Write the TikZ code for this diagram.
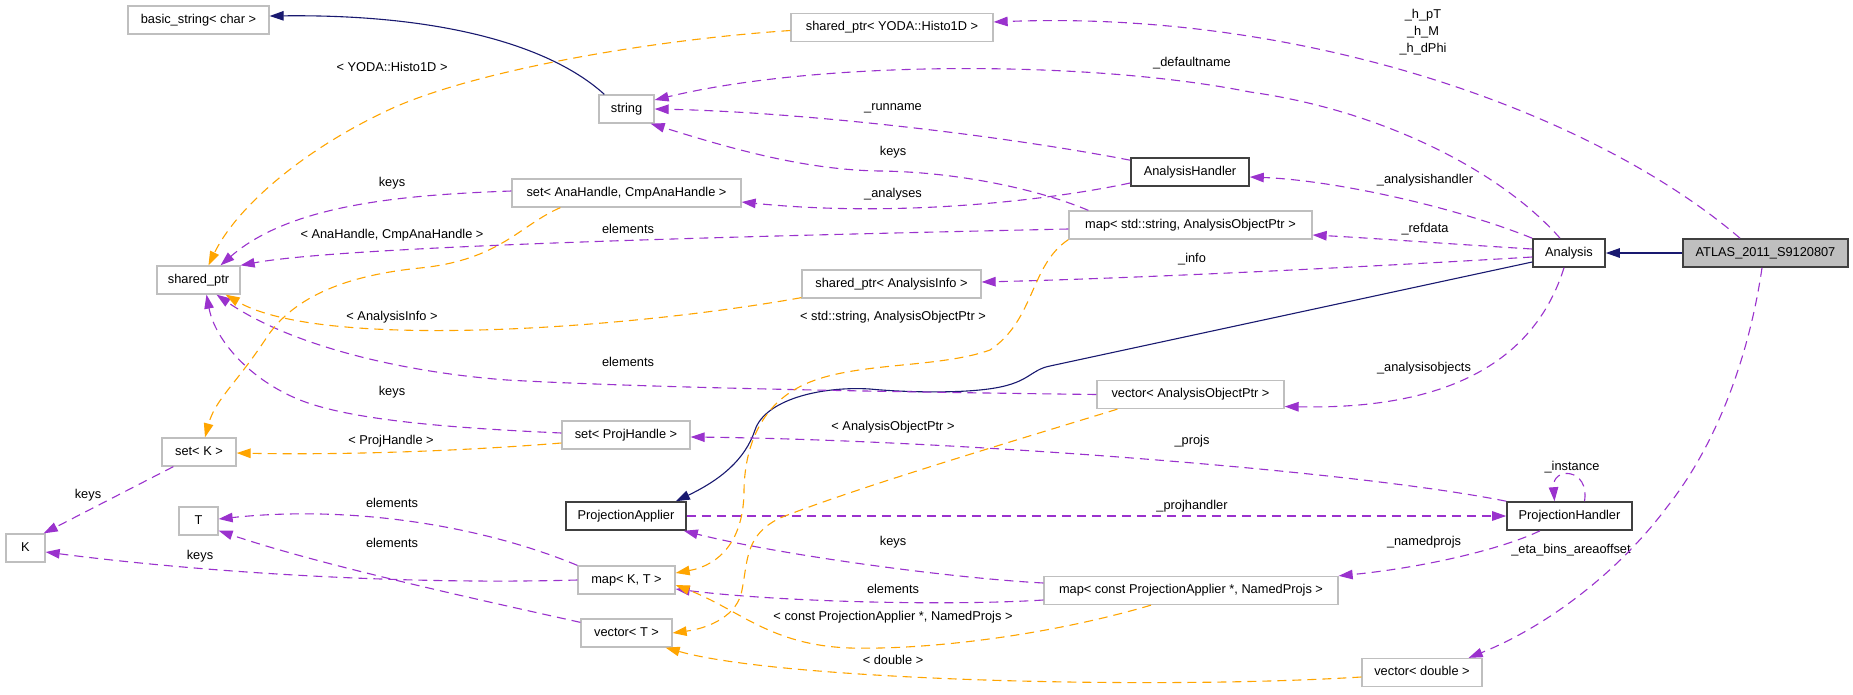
\documentclass[tikz,border=0pt]{standalone}
\usepackage{fontspec}
\setmainfont{Liberation Sans}
\usetikzlibrary{arrows.meta}
\definecolor{memc}{HTML}{9A32CD}
\definecolor{tplc}{HTML}{FFA500}
\definecolor{inhc}{HTML}{191970}
\definecolor{gboxc}{HTML}{BFBFBF}
\definecolor{dboxc}{HTML}{404040}
\begin{document}
\begin{tikzpicture}[x=1pt,y=-1pt,
  txt/.style={font=\fontsize{12.8}{15}\selectfont, inner sep=0pt, text height=9.5pt, text depth=2.7pt},
  box/.style={txt, draw=gboxc, line width=1.3pt, minimum height=28pt},
  cbox/.style={txt, draw=dboxc, line width=1.6pt, minimum height=28pt},
  lbl/.style={txt},
  tip/.style={-{Triangle[length=14pt,width=9.5pt]}},
  memedge/.style={draw=memc, line width=1.1pt, dash pattern=on 9pt off 6pt, tip},
  tpledge/.style={draw=tplc, line width=1.1pt, dash pattern=on 9pt off 6pt, tip},
  inhedge/.style={draw=inhc, line width=1.1pt, tip}
]
\useasboundingbox (0,0) rectangle (1853,694);
\fill[white] (0,0) rectangle (1853,694);

% nodes
\node[box, minimum width=141pt] (bs) at (198.5,20) {basic\_string< char >};
\node[box, minimum width=83pt] (sp) at (198.5,280) {shared\_ptr};
\node[box, minimum width=55pt] (str) at (626.5,109) {string};
\node[box, minimum width=229pt] (sah) at (626.5,193) {set< AnaHandle, CmpAnaHandle >};
\node[box, minimum width=202pt] (yoda) at (892,27.5) {shared\_ptr< YODA::Histo1D >};
\node[box, minimum width=179pt] (sai) at (891.5,284) {shared\_ptr< AnalysisInfo >};
\node[cbox, minimum width=118pt] (ah) at (1190,172) {AnalysisHandler};
\node[box, minimum width=243pt] (msa) at (1190.5,225) {map< std::string, AnalysisObjectPtr >};
\node[cbox, minimum width=72pt] (ana) at (1569,253) {Analysis};
\node[cbox, fill=gboxc, minimum width=165pt] (atlas) at (1765.5,253) {ATLAS\_2011\_S9120807};
\node[box, minimum width=187pt] (vaop) at (1190.5,394.5) {vector< AnalysisObjectPtr >};
\node[box, minimum width=74pt] (setk) at (199,452) {set< K >};
\node[box, minimum width=128pt] (sph) at (626,435) {set< ProjHandle >};
\node[cbox, minimum width=120pt] (pa) at (626,516) {ProjectionApplier};
\node[cbox, minimum width=125pt] (ph) at (1569.5,516) {ProjectionHandler};
\node[box, minimum width=39pt] (T) at (198.5,521) {T};
\node[box, minimum width=39pt] (K) at (25.5,548) {K};
\node[box, minimum width=97pt] (mkt) at (626.5,580) {map< K, T >};
\node[box, minimum width=294pt] (mcpa) at (1191,590.5) {map< const ProjectionApplier *, NamedProjs >};
\node[box, minimum width=91pt] (vt) at (626.5,633) {vector< T >};
\node[box, minimum width=120pt] (vd) at (1422,672.5) {vector< double >};

% edge labels
\node[lbl] (l1) at (392,68) {< YODA::Histo1D >};
\node[lbl] (l2) at (392,183) {keys};
\node[lbl] (l3) at (392,235) {< AnaHandle, CmpAnaHandle >};
\node[lbl] (l4) at (628,230) {elements};
\node[lbl] (l5) at (392,317) {< AnalysisInfo >};
\node[lbl] (l6) at (628,363) {elements};
\node[lbl] (l7) at (392,392) {keys};
\node[lbl] (l8) at (391,441) {< ProjHandle >};
\node[lbl] (l9) at (88,495) {keys};
\node[lbl] (l10) at (392,504) {elements};
\node[lbl] (l11) at (392,544) {elements};
\node[lbl] (l12) at (200,556) {keys};
\node[font=\fontsize{12.8}{17}\selectfont, inner sep=0pt, align=center] (l13) at (1423,32) {\_h\_pT\\\_h\_M\\\_h\_dPhi};
\node[lbl] (l14) at (1192,63) {\_defaultname};
\node[lbl] (l15) at (893,107) {\_runname};
\node[lbl] (l16) at (893,152) {keys};
\node[lbl] (l17) at (893,194) {\_analyses};
\node[lbl] (l18) at (1425,180) {\_analysishandler};
\node[lbl] (l19) at (1425,229) {\_refdata};
\node[lbl] (l20) at (1192,259) {\_info};
\node[lbl] (l21) at (893,317) {< std::string, AnalysisObjectPtr >};
\node[lbl] (l22) at (893,427) {< AnalysisObjectPtr >};
\node[lbl] (l23) at (1192,441) {\_projs};
\node[lbl] (l24) at (1192,506) {\_projhandler};
\node[lbl] (l25) at (893,542) {keys};
\node[lbl] (l26) at (893,590) {elements};
\node[lbl] (l27) at (893,617) {< const ProjectionApplier *, NamedProjs >};
\node[lbl] (l28) at (893,661) {< double >};
\node[lbl] (l29) at (1424,368) {\_analysisobjects};
\node[lbl] (l30) at (1572,467) {\_instance};
\node[lbl] (l31) at (1424,542) {\_namedprojs};
\node[lbl] (l32) at (1571,550) {\_eta\_bins\_areaoffset};

% inheritance
\draw[inhedge] (atlas) -- (ana);
\draw[inhedge] ([yshift=-9pt]ana.west) -- (1050,366) .. controls (1030,370) and (1030,382) .. (995,388)
   .. controls (960,394) and (900,392) .. (870,389) .. controls (820,386) and (765,400) .. (755,430)
   .. controls (745,460) and (720,480) .. ([xshift=-11pt]pa.north east);
\draw[inhedge] ([xshift=6pt]str.north west) .. controls (550,45) and (440,14) .. ([yshift=4pt]bs.east);

% members
\draw[memedge] ([xshift=-25.5pt]atlas.north) .. controls (1590,110) and (1300,10) .. ([yshift=5.5pt]yoda.east);
\draw[memedge] ([xshift=-9pt]ana.north) .. controls (1500,170) and (1380,110) .. (1250,92)
   .. controls (1090,60) and (820,60) .. ([yshift=9pt]str.east);
\draw[memedge] ([yshift=-3pt]ah.north west) .. controls (1000,135) and (800,112) .. (str.east);
\draw[memedge] ([xshift=20pt]msa.north west) .. controls (1040,190) and (960,172) .. (880,171)
   .. controls (800,170) and (720,145) .. ([xshift=-4pt]str.south east);
\draw[memedge] ([yshift=-11pt]ah.west) .. controls (1050,200) and (900,218) .. ([yshift=-9pt]sah.east);
\draw[memedge] (ana.north west) .. controls (1450,205) and (1330,180) .. ([yshift=-5pt]ah.east);
\draw[memedge] ([yshift=4pt]ana.west) .. controls (1450,244) and (1370,238) .. ([yshift=-10pt]msa.east);
\draw[memedge] ([yshift=-4pt]ana.west) .. controls (1400,265) and (1150,278) .. ([yshift=2pt]sai.east);
\draw[memedge] ([xshift=-5pt]ana.south) .. controls (1535,360) and (1450,410) .. ([yshift=-12pt]vaop.east);
\draw[memedge] ([xshift=-3.5pt]atlas.south) .. controls (1750,350) and (1720,440) .. (1667,507)
   .. controls (1620,570) and (1550,625) .. ([xshift=-14pt]vd.north east);
\draw[memedge] ([xshift=15pt]ph.north) .. controls (1590,468) and (1552,466) .. ([xshift=-15pt]ph.north);
\draw[memedge] (ph.north west) .. controls (1350,470) and (950,440) .. ([yshift=-2pt]sph.east);
\draw[memedge] (pa) -- (ph);
\draw[memedge] ([xshift=-29.5pt]ph.south) .. controls (1500,550) and (1420,568) .. (mcpa.north east);
\draw[memedge] ([yshift=7.5pt]mcpa.west) .. controls (950,578) and (780,555) .. ([xshift=-3pt]pa.south east);
\draw[memedge] ([yshift=-9.5pt]mcpa.west) .. controls (950,606) and (780,602) .. ([yshift=-9pt]mkt.east);
\draw[memedge] ([yshift=2pt]sah.west) .. controls (400,195) and (290,205) .. ([xshift=22pt]sp.north);
\draw[memedge] ([yshift=-4pt]msa.west) .. controls (800,235) and (350,245) .. (sp.north east);
\draw[memedge] (vaop.west) .. controls (900,392) and (650,388) .. (507,380)
   .. controls (400,372) and (290,345) .. ([xshift=18pt]sp.south);
\draw[memedge] ([yshift=2pt]sph.west) .. controls (450,428) and (350,420) .. (300,400)
   .. controls (250,380) and (215,340) .. ([xshift=8pt]sp.south);
\draw[memedge] ([xshift=12pt]setk.south west) -- ([xshift=-2pt]K.north east);
\draw[memedge] (mkt.west) .. controls (400,585) and (200,572) .. ([yshift=-4pt]K.east);
\draw[memedge] (mkt.north west) .. controls (480,525) and (350,505) .. ([yshift=2pt]T.east);
\draw[memedge] ([yshift=-4pt]vt.north west) .. controls (480,600) and (320,565) .. ([yshift=5pt]T.south east);

% template instances
\draw[tpledge] ([xshift=-40pt]mcpa.south) .. controls (1050,635) and (930,650) .. (850,648)
   .. controls (770,645) and (740,610) .. ([yshift=-5pt]mkt.east);
\draw[tpledge] (msa.south west) .. controls (1030,265) and (1035,320) .. (990,350)
   .. controls (940,368) and (860,362) .. (810,382) .. controls (765,400) and (745,440) .. (744,490)
   .. controls (744,540) and (720,565) .. ([yshift=7pt]mkt.east);
\draw[tpledge] ([xshift=21pt]vaop.south west) .. controls (1000,445) and (850,490) .. (780,518)
   .. controls (745,535) and (748,560) .. (742,590) .. controls (738,615) and (710,628) .. (vt.east);
\draw[tpledge] ([yshift=-4.5pt]vd.west) .. controls (1150,690) and (780,680) .. ([xshift=-7pt]vt.south east);
\draw[tpledge] ([yshift=-3pt]yoda.west) .. controls (650,40) and (480,70) .. (395,107)
   .. controls (300,150) and (235,210) .. ([xshift=10pt]sp.north);
\draw[tpledge] ([xshift=49pt]sah.south west) .. controls (520,225) and (500,260) .. (420,268)
   .. controls (340,276) and (290,300) .. (265,340) .. controls (235,385) and (215,400) .. ([xshift=6pt]setk.north);
\draw[tpledge] ([yshift=1pt]sai.south west) .. controls (620,330) and (320,350) .. ([xshift=-15pt]sp.south east);
\draw[tpledge] ([yshift=-8pt]sph.west) .. controls (450,452) and (330,455) .. ([yshift=-1pt]setk.east);
\end{tikzpicture}
\end{document}
